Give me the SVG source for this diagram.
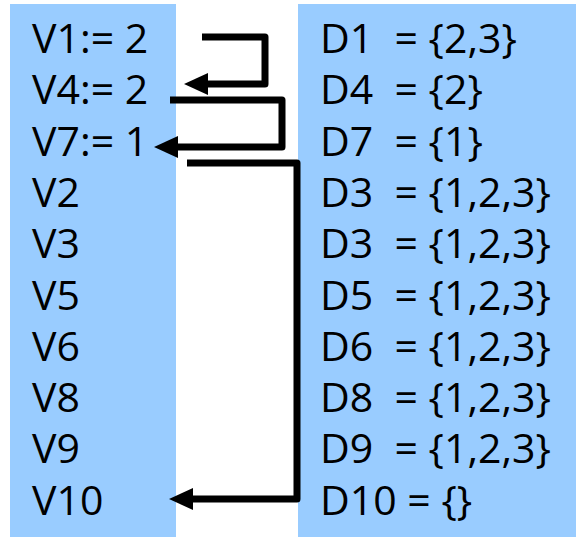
<svg xmlns="http://www.w3.org/2000/svg" width="576" height="540" viewBox="0 0 576 540">
<defs>
<style>
.panel{fill:#99ccff}
.t{font-family:"Open Sans",sans-serif;font-size:41px;fill:#000;white-space:pre}
.c{fill:none;stroke:#000;stroke-width:7;stroke-linejoin:round}
</style>
<marker id="ah" markerUnits="userSpaceOnUse" markerWidth="24" markerHeight="24" viewBox="0 0 24 24" refX="2" refY="12" orient="auto">
<path d="M0,1 L24,12 L0,23 Z" fill="#000"/>
</marker>
</defs>
<rect width="576" height="540" fill="#fff"/>
<g id="vars">
<rect class="panel" x="10" y="4" width="166" height="533"/>
<text class="t" x="32" y="53">V1:= 2</text>
<text class="t" x="32" y="104">V4:= 2</text>
<text class="t" x="32" y="156">V7:= 1</text>
<text class="t" x="32" y="207">V2</text>
<text class="t" x="32" y="258">V3</text>
<text class="t" x="32" y="310">V5</text>
<text class="t" x="32" y="361">V6</text>
<text class="t" x="32" y="412">V8</text>
<text class="t" x="32" y="463">V9</text>
<text class="t" x="32" y="515">V10</text>
</g>
<g id="domains">
<rect class="panel" x="298" y="4" width="278" height="533"/>
<text class="t" x="320" y="53">D1  = {2,3}</text>
<text class="t" x="320" y="104">D4  = {2}</text>
<text class="t" x="320" y="156">D7  = {1}</text>
<text class="t" x="320" y="207">D3  = {1,2,3}</text>
<text class="t" x="320" y="258">D3  = {1,2,3}</text>
<text class="t" x="320" y="310">D5  = {1,2,3}</text>
<text class="t" x="320" y="361">D6  = {1,2,3}</text>
<text class="t" x="320" y="412">D8  = {1,2,3}</text>
<text class="t" x="320" y="463">D9  = {1,2,3}</text>
<text class="t" x="320" y="515">D10 = {}</text>
</g>
<g id="connectors">
<path class="c" d="M202,37 H265 V84 H206" marker-end="url(#ah)"/>
<path class="c" d="M170,100 H282 V147 H176" marker-end="url(#ah)"/>
<path class="c" d="M187,163 H297 V499 H191" marker-end="url(#ah)"/>
</g>
</svg>
